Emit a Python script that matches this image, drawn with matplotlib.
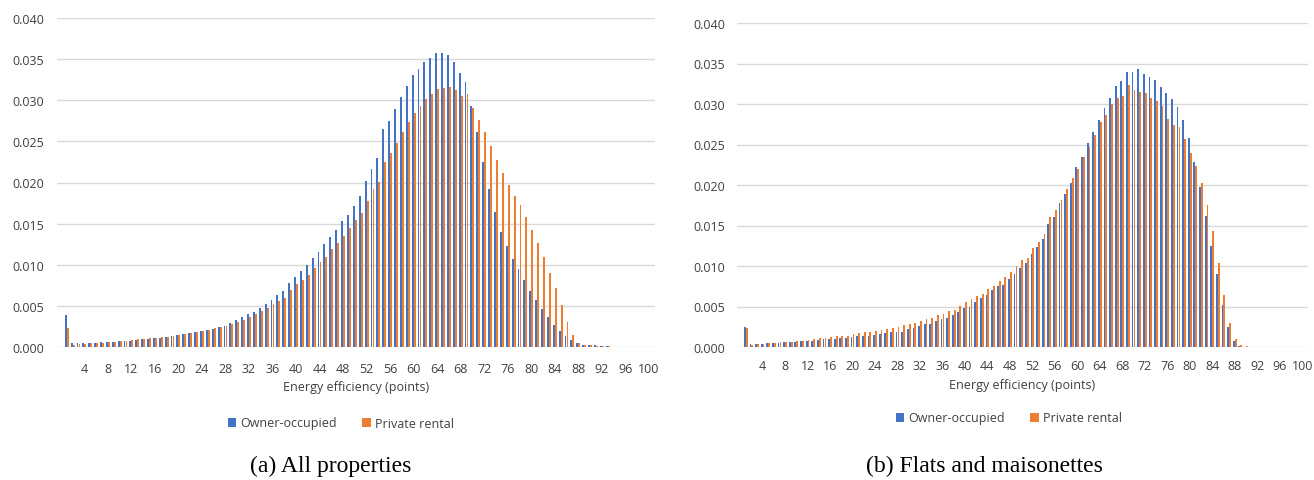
import numpy as np
import matplotlib
matplotlib.use('Agg')
import matplotlib.pyplot as plt
from matplotlib.patches import Patch

BLUE = '#4472C4'
ORANGE = '#ED7D31'
GRID = '#D9D9D9'

SANS = ['Open Sans', 'DejaVu Sans']
SERIF = ['Liberation Serif', 'DejaVu Serif']

# energy efficiency points 1..100
points = np.arange(1, 101)

# (a) All properties
all_owner = [
    0.0039, 0.00044, 0.00048, 0.00048, 0.0005, 0.0005, 0.0006, 0.00065, 0.00065, 0.0007,
    0.00077, 0.00077, 0.0009, 0.00093, 0.0010, 0.0011, 0.00113, 0.0012, 0.00129, 0.0014,
    0.00153, 0.00165, 0.0018, 0.0019, 0.0021, 0.0022, 0.0024, 0.0026, 0.0029, 0.0033,
    0.0036, 0.0040, 0.0043, 0.0048, 0.0052, 0.0057, 0.0063, 0.0068, 0.0078, 0.0085,
    0.0092, 0.0100, 0.0108, 0.0116, 0.0125, 0.0134, 0.0142, 0.0153, 0.0161, 0.0171,
    0.0183, 0.0202, 0.0217, 0.0230, 0.0265, 0.0275, 0.0289, 0.0304, 0.0317, 0.0331,
    0.0338, 0.0346, 0.0351, 0.0357, 0.0357, 0.0355, 0.0347, 0.0333, 0.0322, 0.0293,
    0.0261, 0.0225, 0.0192, 0.0164, 0.0140, 0.0123, 0.0107, 0.0095, 0.0082, 0.0068,
    0.0057, 0.0046, 0.0036, 0.0027, 0.0020, 0.0013, 0.0008, 0.00045, 0.0003, 0.00025,
    0.0002, 0.00015, 0.0001, 0.00005, 0.0, 0.0, 0.0, 0.0, 0.0, 0.0,
]
all_private = [
    0.0023, 0.0003, 0.0004, 0.0004, 0.00048, 0.0005, 0.0005, 0.00056, 0.00065, 0.0007,
    0.00077, 0.0008, 0.00093, 0.00097, 0.0011, 0.00113, 0.0012, 0.00125, 0.0013, 0.0014,
    0.0016, 0.0017, 0.0018, 0.0020, 0.0021, 0.0023, 0.0024, 0.0025, 0.0028, 0.0030,
    0.0033, 0.0036, 0.0040, 0.0044, 0.0047, 0.0052, 0.0056, 0.0060, 0.0069, 0.0076,
    0.0082, 0.0088, 0.0096, 0.0103, 0.0110, 0.0119, 0.0127, 0.0135, 0.0145, 0.0154,
    0.0163, 0.0178, 0.0192, 0.0201, 0.0225, 0.0236, 0.0248, 0.0262, 0.0274, 0.0284,
    0.0293, 0.0301, 0.0308, 0.0314, 0.0315, 0.0316, 0.0312, 0.0305, 0.0307, 0.0291,
    0.0276, 0.0261, 0.0244, 0.0227, 0.0212, 0.0197, 0.0183, 0.0173, 0.0158, 0.0142,
    0.0127, 0.0109, 0.0090, 0.0072, 0.0051, 0.0031, 0.0015, 0.0005, 0.0003, 0.0002,
    0.0001, 0.0001, 0.0001, 0.0, 0.0, 0.0, 0.0, 0.0, 0.0, 0.0,
]

# (b) Flats and maisonettes
flat_owner = [
    0.00246, 0.00037, 0.00037, 0.0004, 0.00045, 0.00045, 0.00053, 0.0006, 0.0006, 0.00066,
    0.0007, 0.0008, 0.0008, 0.0009, 0.00095, 0.0010, 0.0010, 0.0011, 0.00115, 0.0012,
    0.0013, 0.0014, 0.0014, 0.0015, 0.0016, 0.0017, 0.0018, 0.0019, 0.0019, 0.00226,
    0.00235, 0.00255, 0.0028, 0.0029, 0.0032, 0.0034, 0.0036, 0.0039, 0.0043, 0.0048,
    0.0050, 0.0055, 0.0061, 0.0064, 0.0070, 0.0075, 0.0077, 0.0084, 0.0090, 0.0097,
    0.0104, 0.0115, 0.0124, 0.0133, 0.0152, 0.0160, 0.0178, 0.0189, 0.0203, 0.0222,
    0.0235, 0.0252, 0.0266, 0.0280, 0.0295, 0.0307, 0.0322, 0.0328, 0.0340, 0.0339,
    0.0343, 0.0337, 0.0333, 0.0330, 0.0321, 0.0314, 0.0306, 0.0296, 0.0280, 0.0258,
    0.0229, 0.0198, 0.0162, 0.0125, 0.0090, 0.0052, 0.0025, 0.0007, 0.0001, 0.0,
    0.0, 0.0, 0.0, 0.0, 0.0, 0.0, 0.0, 0.0, 0.0, 0.0,
]
flat_private = [
    0.0023, 0.0003, 0.00033, 0.0004, 0.00045, 0.0005, 0.0006, 0.0006, 0.00066, 0.00074,
    0.0008, 0.0009, 0.0010, 0.0011, 0.0011, 0.0012, 0.0013, 0.0014, 0.0014, 0.0016,
    0.0017, 0.0018, 0.0019, 0.0020, 0.0021, 0.0022, 0.0023, 0.0025, 0.0027, 0.0028,
    0.0030, 0.0032, 0.0034, 0.0036, 0.0039, 0.0041, 0.0044, 0.0046, 0.0051, 0.0056,
    0.0059, 0.0063, 0.0066, 0.0071, 0.0075, 0.0082, 0.0087, 0.0092, 0.0100, 0.0107,
    0.0110, 0.0122, 0.0130, 0.0139, 0.0160, 0.0169, 0.0181, 0.0195, 0.0209, 0.0220,
    0.0235, 0.0247, 0.0262, 0.0278, 0.0287, 0.0300, 0.0308, 0.0310, 0.0324, 0.0317,
    0.0315, 0.0314, 0.0307, 0.0304, 0.0297, 0.0282, 0.0274, 0.0271, 0.0257, 0.0240,
    0.0223, 0.0202, 0.0175, 0.0143, 0.0104, 0.0064, 0.0030, 0.0010, 0.0002, 0.0001,
    0.0, 0.0, 0.0, 0.0, 0.0, 0.0, 0.0, 0.0, 0.0, 0.0,
]

series_names = ['Owner-occupied', 'Private rental']
x_ticks = list(range(4, 101, 4))
y_ticks = [0.0, 0.005, 0.010, 0.015, 0.020, 0.025, 0.030, 0.035, 0.040]
captions = ['(a) All properties', '(b) Flats and maisonettes']

W, H = 1314, 481
fig = plt.figure(figsize=(W / 100, H / 100), dpi=100)


def px_axes(x0, x1, y_top, y_bottom):
    return fig.add_axes([x0 / W, 1 - y_bottom / H, (x1 - x0) / W, (y_bottom - y_top) / H])


def draw_panel(ax, owner, private, ypad, xpad, labelpad):
    bw = 0.32
    ax.bar(points - 0.17, owner, width=bw, color=BLUE, linewidth=0, zorder=3)
    ax.bar(points + 0.17, private, width=bw, color=ORANGE, linewidth=0, zorder=3)
    ax.set_xlim(-0.65, 101.05)
    ax.set_ylim(0, 0.040)
    ax.set_yticks(y_ticks)
    ax.set_yticklabels(['%.3f' % v for v in y_ticks], fontsize=9, family=SANS, color='#404040')
    ax.set_xticks(x_ticks)
    ax.set_xticklabels([str(t) for t in x_ticks], fontsize=9, family=SANS, color='#404040')
    ax.tick_params(axis='both', length=0)
    ax.tick_params(axis='y', pad=ypad)
    ax.tick_params(axis='x', pad=xpad)
    ax.grid(axis='y', color=GRID, linewidth=1.0, zorder=0)
    for s in ax.spines.values():
        s.set_visible(False)
    ax.set_xlabel('Energy efficiency (points)', fontsize=9, family=SANS,
                  color='#404040', labelpad=labelpad)


ax1 = px_axes(57, 655, 19, 348)
draw_panel(ax1, all_owner, all_private, 9.5, 10.5, 4)

ax2 = px_axes(736.5, 1308, 24, 348)
draw_panel(ax2, flat_owner, flat_private, 8, 9, 4)

handles = [Patch(facecolor=BLUE, edgecolor='none'), Patch(facecolor=ORANGE, edgecolor='none')]
for cx, cy in [(341, 424), (1009, 419)]:
    fig.legend(handles, series_names, loc='center', bbox_to_anchor=(cx / W, 1 - cy / H),
               ncol=2, frameon=False, handlelength=0.7, handleheight=0.7,
               handletextpad=0.35, columnspacing=2.0,
               prop={'family': SANS, 'size': 9}, labelcolor='#404040')

fig.text(331 / W, 1 - 466 / H, captions[0], ha='center', va='center',
         family=SERIF, fontsize=17)
fig.text(984 / W, 1 - 466 / H, captions[1], ha='center', va='center',
         family=SERIF, fontsize=17)

plt.savefig('out.png', dpi=100)
